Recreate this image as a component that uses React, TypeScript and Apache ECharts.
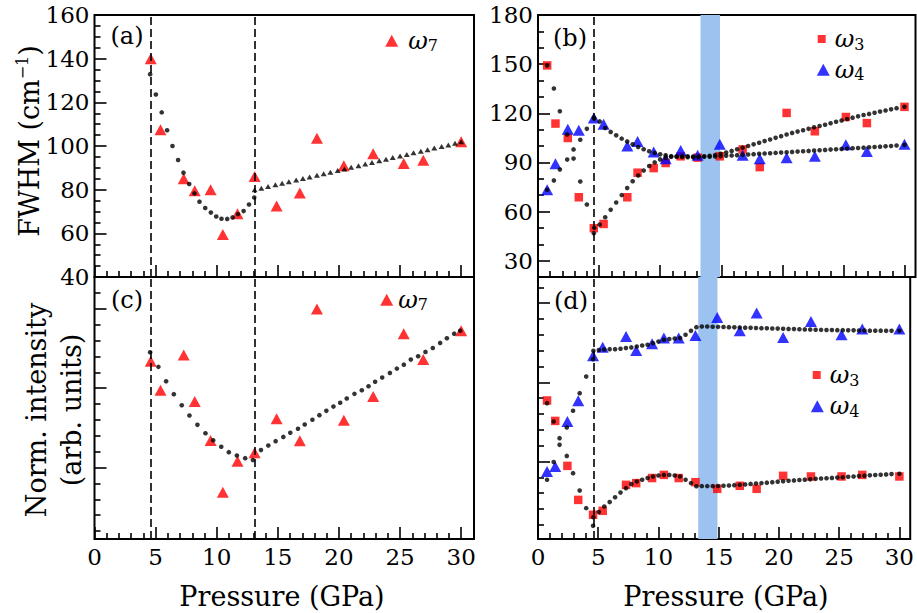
import React, { useEffect, useRef } from "react";
import * as echarts from "echarts";

const FONT = "DejaVu Serif";

// ---------- tick values ----------
const xMinorTicks = [1, 2, 3, 4, 6, 7, 8, 9, 11, 12, 13, 14, 16, 17, 18, 19, 21, 22, 23, 24, 26, 27, 28, 29];
const xMajorTicks = [0, 5, 10, 15, 20, 25, 30];
const aMinorTicks = [45, 50, 55, 65, 70, 75, 85, 90, 95, 105, 110, 115, 125, 130, 135, 145, 150, 155];
const aMajorTicks = [40, 60, 80, 100, 120, 140, 160];
const bMinorTicks = [40, 50, 70, 80, 100, 110, 130, 140, 160, 170];
const bMajorTicks = [30, 60, 90, 120, 150, 180];
const cdMinorTicks = [1, 2, 3, 4, 6, 7, 8, 9, 11, 12, 13, 14, 16];
const cdMajorTicks = [5, 10, 15];

// ---------- reference lines ----------
const transitionsLeft = [4.6, 13.1];
const transitionsRight = [4.6];
const bandRight = [13.3, 14.9];

// ---------- panel (a) & (c): omega7 ----------
const leftPressure = [4.6, 5.4, 7.3, 8.2, 9.5, 10.5, 11.7, 13.1, 14.9, 16.8, 18.2, 20.4, 22.8, 25.3, 26.9, 30.0];
const aFwhmW7 = [140, 107.5, 85, 79.5, 80, 59.5, 69, 86, 72.5, 78.5, 103.5, 91, 96.5, 92, 93.5, 102];
const cIntW7 = [11.69, 9.87, 12.09, 9.16, 6.7, 3.45, 5.4, 5.93, 8.07, 6.69, 14.99, 7.98, 9.47, 13.43, 11.8, 13.62];

const aFitDotX = [4.55, 5.02, 5.5, 5.94, 6.38, 6.84, 7.28, 7.75, 8.18, 8.59, 9.06, 9.52, 9.96, 10.39, 10.86, 11.3, 11.74, 12.2, 12.64, 13.07];
const aFitDotY = [132.9, 123.6, 115.4, 107.2, 100.0, 93.6, 87.8, 82.6, 78.3, 74.5, 71.6, 69.5, 67.7, 66.7, 66.6, 67.3, 68.8, 70.2, 73.2, 76.4];
const aFitTriX = [13.1, 13.65, 14.2, 14.8, 15.35, 15.9, 16.5, 17.05, 17.6, 18.2, 18.75, 19.3, 19.9, 20.45, 21.0, 21.6, 22.15, 22.7, 23.3, 23.85, 24.4, 25.0, 25.55, 26.1, 26.7, 27.25, 27.8, 28.4, 28.95, 29.5, 30.0];
const aFitTriY = [80.0, 80.7, 81.4, 82.2, 82.9, 83.6, 84.4, 85.1, 85.8, 86.6, 87.3, 88.0, 88.8, 89.5, 90.3, 91.0, 91.7, 92.5, 93.2, 93.9, 94.7, 95.4, 96.1, 96.9, 97.6, 98.3, 99.1, 99.8, 100.5, 101.3, 102.0];

const cFitX = [4.55, 5.23, 5.86, 6.49, 7.14, 7.77, 8.42, 9.08, 9.71, 10.37, 10.99, 11.65, 12.33, 12.96, 13.62, 14.22, 14.82, 15.45, 16.02, 16.65, 17.2, 17.83, 18.4, 18.97, 19.55, 20.1, 20.64, 21.27, 21.87, 22.42, 22.96, 23.54, 24.17, 24.74, 25.31, 25.88, 26.48, 27.08, 27.68, 28.28, 28.83, 29.43, 29.92];
const cFitY = [12.26, 11.34, 10.43, 9.62, 8.92, 8.28, 7.69, 7.16, 6.72, 6.31, 5.97, 5.76, 5.59, 5.47, 6.1, 6.39, 6.66, 6.93, 7.19, 7.44, 7.71, 8.01, 8.3, 8.57, 8.84, 9.08, 9.35, 9.64, 9.87, 10.12, 10.4, 10.67, 10.96, 11.23, 11.48, 11.8, 12.01, 12.28, 12.53, 12.85, 13.14, 13.43, 13.62];

// ---------- panel (b) & (d): omega3, omega4 ----------
const rightPressure = [0.75, 1.43, 2.44, 3.34, 4.57, 5.37, 7.31, 8.15, 9.47, 10.45, 11.68, 13.07, 14.88, 16.75, 18.15, 20.35, 22.66, 25.2, 26.92, 30.0];
const bFwhmW3 = [149.2, 113.7, 104.9, 68.7, 49.8, 52.4, 68.7, 83.7, 86.5, 89.6, 93.7, 92.9, 93.7, 97.9, 87.1, 120.2, 109.0, 117.7, 114.0, 123.9];
const bFwhmW4 = [73.3, 89.2, 110.2, 109.6, 117.1, 113.3, 100.0, 102.8, 96.3, 92.2, 97.3, 94.3, 101.0, 94.3, 92.2, 92.9, 93.7, 100.8, 96.7, 101.0];
const dIntW3 = [8.85, 7.56, 4.72, 2.57, 1.63, 1.88, 3.52, 3.63, 3.95, 4.15, 3.95, 3.69, 3.27, 3.46, 3.27, 4.09, 4.05, 4.05, 4.15, 4.05];
const dIntW4 = [4.36, 4.68, 7.52, 8.83, 11.67, 12.22, 12.89, 12.0, 12.43, 12.79, 12.79, 12.95, 14.09, 13.25, 14.37, 12.83, 13.84, 13.0, 13.36, 13.36];

const rightPreX = [0.75, 1.3, 1.79, 2.39, 2.91, 3.46, 4.0, 4.57];
const bPreW3 = [149.2, 135.1, 121.2, 107.0, 92.3, 78.3, 64.3, 46.7];
const bPreW4 = [73.3, 79.0, 85.6, 91.7, 97.9, 103.8, 110.5, 117.3];
const dPreW3 = [8.68, 7.52, 6.47, 5.35, 4.26, 3.16, 2.05, 0.93];
const dPreW4 = [3.84, 4.96, 6.05, 7.14, 8.2, 9.31, 10.36, 11.46];

const rightPostX = [4.6, 5.05, 5.5, 5.95, 6.4, 6.85, 7.3, 7.75, 8.2, 8.65, 9.1, 9.55, 10.0, 10.45, 10.9, 11.35, 11.8, 12.25, 12.7, 13.15, 13.6, 14.05, 14.5, 14.95, 15.4, 15.85, 16.3, 16.75, 17.2, 17.65, 18.1, 18.55, 19.0, 19.45, 19.9, 20.35, 20.8, 21.25, 21.7, 22.15, 22.6, 23.05, 23.5, 23.95, 24.4, 24.85, 25.3, 25.75, 26.2, 26.65, 27.1, 27.55, 28.0, 28.45, 28.9, 29.35, 30.0];
const bPostW3 = [50, 52, 56.5, 61, 65.5, 70, 74.3, 78.5, 82, 85, 87.8, 90, 91.8, 92.8, 93.4, 93.6, 93.7, 93.7, 93.6, 93.6, 93.7, 94, 94.5, 95.2, 96, 97, 98, 99, 100, 101, 102, 103, 104, 105, 106, 107, 108, 108.8, 109.6, 110.5, 111.4, 112.2, 113, 113.9, 114.8, 115.6, 116.5, 117.3, 118.1, 118.9, 119.6, 120.3, 121, 121.7, 122.4, 123.1, 124];
const bPostW4 = [117, 115, 111, 108.6, 106.5, 104.5, 102.8, 101, 99.4, 98, 96.8, 95.7, 94.9, 94.3, 93.8, 93.5, 93.3, 93.2, 93.2, 93.3, 93.4, 93.5, 93.6, 93.8, 94, 94.2, 94.4, 94.6, 94.8, 95, 95.2, 95.4, 95.6, 95.8, 96, 96.2, 96.4, 96.6, 96.8, 97, 97.2, 97.4, 97.6, 97.8, 98, 98.2, 98.4, 98.6, 98.8, 99, 99.2, 99.4, 99.6, 99.8, 100, 100.3, 100.7];
const dPostW3 = [1.48, 1.8, 2.15, 2.43, 2.74, 3.03, 3.31, 3.57, 3.73, 3.84, 3.95, 4.05, 4.11, 4.15, 4.15, 4.11, 4.05, 3.84, 3.63, 3.43, 3.44, 3.44, 3.44, 3.45, 3.46, 3.48, 3.5, 3.52, 3.55, 3.58, 3.6, 3.63, 3.66, 3.69, 3.72, 3.75, 3.78, 3.8, 3.83, 3.85, 3.87, 3.9, 3.92, 3.94, 3.96, 3.98, 4.0, 4.03, 4.05, 4.08, 4.1, 4.12, 4.14, 4.16, 4.18, 4.2, 4.22];
const dPostW4 = [11.99, 12.04, 12.07, 12.09, 12.09, 12.12, 12.16, 12.2, 12.26, 12.32, 12.37, 12.47, 12.57, 12.68, 12.73, 12.76, 12.79, 13.0, 13.25, 13.48, 13.52, 13.52, 13.51, 13.5, 13.49, 13.48, 13.47, 13.46, 13.45, 13.44, 13.43, 13.42, 13.41, 13.4, 13.39, 13.38, 13.37, 13.36, 13.35, 13.34, 13.33, 13.32, 13.31, 13.3, 13.3, 13.29, 13.29, 13.28, 13.28, 13.27, 13.27, 13.26, 13.26, 13.26, 13.25, 13.25, 13.25];

// ---------- helpers ----------
const pair = (xs: number[], ys: number[]) => xs.map((x, i) => [x, ys[i]]);
const RED = "#ff0000";
const BLUE = "#0000ff";
const BLACK = "#000000";
const tickLine = { color: BLACK, width: 1.6 };

function axisPair(dim: "x" | "y", g: number, min: number, max: number, minor: number[], major: number[], labels: number[] | null) {
  const base: any = {
    gridIndex: g,
    type: "value",
    min,
    max,
    position: dim === "x" ? "bottom" : "left",
    axisLine: { show: false },
    splitLine: { show: false },
    silent: true,
  };
  const a1 = {
    ...base,
    axisTick: { show: true, inside: true, length: 6, customValues: minor, lineStyle: tickLine },
    axisLabel: labels
      ? { show: true, customValues: labels, color: BLACK, fontFamily: FONT, fontSize: 23, margin: dim === "x" ? 6 : 5, showMinLabel: true, showMaxLabel: true }
      : { show: false },
  };
  const a2 = {
    ...base,
    axisTick: { show: true, inside: true, length: 12, customValues: major, lineStyle: tickLine },
    axisLabel: { show: false },
  };
  return [a1, a2];
}

const titleRich = {
  n: { fontFamily: FONT, fontSize: 27, lineHeight: 30, fill: BLACK },
  m: { fontFamily: FONT, fontSize: 27, lineHeight: 35, fill: BLACK },
  sup: { fontFamily: FONT, fontSize: 16, lineHeight: 16, verticalAlign: "top", fill: BLACK },
};

function titleText(text: string, x: number, y: number, rotate: boolean) {
  return {
    type: "text",
    x,
    y,
    rotation: rotate ? Math.PI / 2 : 0,
    silent: true,
    style: {
      text,
      fontFamily: FONT,
      fontSize: 27,
      fill: BLACK,
      align: "center",
      verticalAlign: "middle",
      rich: titleRich,
    },
  };
}

function plainTitle(text: string, x: number, y: number) {
  return {
    type: "text",
    x,
    y,
    silent: true,
    style: {
      text,
      font: '27px "DejaVu Serif"',
      fill: BLACK,
      align: "center",
      verticalAlign: "middle",
    },
  };
}

function legend(name: string, icon: string, w: number, h: number, left: number, top: number, pad: number) {
  return {
    show: true,
    data: [name],
    left,
    top,
    icon,
    itemWidth: w,
    itemHeight: h,
    padding: 0,
    selectedMode: false,
    formatter: (n: string) => `{w|${n.slice(0, 1)}}{s|${n.slice(1)}}`,
    textStyle: {
      color: BLACK,
      fontFamily: FONT,
      rich: {
        w: { fontFamily: FONT, fontStyle: "italic", fontSize: 24, lineHeight: 26, padding: [0, 0, 0, pad], color: BLACK },
        s: { fontFamily: FONT, fontSize: 16, lineHeight: 16, verticalAlign: "bottom", color: BLACK },
      },
    },
  };
}

function panelLabel(text: string, x: number, y: number) {
  return {
    type: "text",
    x,
    y,
    silent: true,
    style: { text, fontFamily: FONT, fontSize: 24, fill: BLACK, align: "center", verticalAlign: "middle" },
  };
}

const dashStyle = { color: BLACK, type: [8, 4], width: 1.6 };

function refSeries(g: number, lines: number[], band: number[] | null) {
  const s: any = {
    type: "line",
    name: "ref" + g,
    xAxisIndex: 2 * g,
    yAxisIndex: 2 * g,
    data: [],
    z: 1,
    silent: true,
    markLine: {
      silent: true,
      symbol: ["none", "none"],
      label: { show: false },
      lineStyle: dashStyle,
      data: lines.map((v) => ({ xAxis: v })),
    },
  };
  if (band) {
    s.markArea = {
      silent: true,
      itemStyle: { color: "#9cc3ef", opacity: 1 },
      data: [[{ xAxis: band[0] }, { xAxis: band[1] }]],
    };
  }
  return s;
}

function dots(g: number, name: string, data: number[][], symbol = "circle", size: any = 4.6) {
  return {
    type: "scatter",
    name,
    xAxisIndex: 2 * g,
    yAxisIndex: 2 * g,
    data,
    symbol,
    symbolSize: size,
    itemStyle: { color: BLACK },
    z: 4,
    silent: true,
  };
}

function markers(g: number, name: string, data: number[][], symbol: string, size: any, color: string) {
  return {
    type: "scatter",
    name,
    xAxisIndex: 2 * g,
    yAxisIndex: 2 * g,
    data,
    symbol,
    symbolSize: size,
    itemStyle: { color },
    z: 3,
    silent: true,
  };
}

const TRI = [12, 11];

export default function App() {
  const ref = useRef<HTMLDivElement>(null);
  useEffect(() => {
    document.body.style.margin = "0";
    const chart = echarts.init(ref.current as HTMLDivElement, null, { renderer: "svg" });
    const grids = [
      { left: 94.5, top: 15, width: 379.5, height: 262 },
      { left: 538, top: 15, width: 377.5, height: 262 },
      { left: 94.5, top: 277, width: 379.5, height: 262 },
      { left: 538, top: 277, width: 377.5, height: 262 },
    ].map((g) => ({ ...g, show: true, borderColor: BLACK, borderWidth: 2, backgroundColor: "transparent" }));

    const xAxis = [
      ...axisPair("x", 0, 0, 31.05, xMinorTicks, xMajorTicks, null),
      ...axisPair("x", 1, 0, 30.9, xMinorTicks, xMajorTicks, null),
      ...axisPair("x", 2, 0, 31.05, xMinorTicks, xMajorTicks, xMajorTicks),
      ...axisPair("x", 3, 0, 30.9, xMinorTicks, xMajorTicks, xMajorTicks),
    ];
    const yAxis = [
      ...axisPair("y", 0, 40, 160, aMinorTicks, aMajorTicks, aMajorTicks),
      ...axisPair("y", 1, 20, 180, bMinorTicks, bMajorTicks, bMajorTicks),
      ...axisPair("y", 2, 0.5, 17, cdMinorTicks, cdMajorTicks, null),
      ...axisPair("y", 3, 0.1, 16.65, cdMinorTicks, cdMajorTicks, null),
    ];

    const series: any[] = [
      refSeries(0, transitionsLeft, null),
      markers(0, "ω7", pair(leftPressure, aFwhmW7), "triangle", TRI, RED),
      dots(0, "fitA1", pair(aFitDotX, aFitDotY)),
      dots(0, "fitA2", pair(aFitTriX, aFitTriY), "triangle", [6, 5]),
      refSeries(1, transitionsRight, bandRight),
      markers(1, "ω3", pair(rightPressure, bFwhmW3), "rect", 8.5, RED),
      markers(1, "ω4", pair(rightPressure, bFwhmW4), "triangle", TRI, BLUE),
      dots(1, "fitB1", pair(rightPreX, bPreW3)),
      dots(1, "fitB2", pair(rightPreX, bPreW4)),
      dots(1, "fitB3", pair(rightPostX, bPostW3)),
      dots(1, "fitB4", pair(rightPostX, bPostW4)),
      refSeries(2, transitionsLeft, null),
      markers(2, "ω7", pair(leftPressure, cIntW7), "triangle", TRI, RED),
      dots(2, "fitC", pair(cFitX, cFitY)),
      refSeries(3, transitionsRight, bandRight),
      markers(3, "ω3", pair(rightPressure, dIntW3), "rect", 8.5, RED),
      markers(3, "ω4", pair(rightPressure, dIntW4), "triangle", TRI, BLUE),
      dots(3, "fitD1", pair(rightPreX, dPreW3)),
      dots(3, "fitD2", pair(rightPreX, dPreW4)),
      dots(3, "fitD3", pair(rightPostX, dPostW3)),
      dots(3, "fitD4", pair(rightPostX, dPostW4)),
    ];

    chart.setOption({
      animation: false,
      backgroundColor: "#ffffff",
      textStyle: { fontFamily: FONT, color: BLACK },
      grid: grids,
      xAxis,
      yAxis,
      legend: [
        legend("ω7", "triangle", 13, 12, 385.2, 28.7, 5),
        legend("ω3", "rect", 8, 8, 817.7, 27, 4),
        legend("ω4", "triangle", 13, 12, 816.8, 57.7, 0),
        legend("ω7", "triangle", 13, 12, 380.2, 287.7, 0),
        legend("ω3", "rect", 8, 8, 812.7, 363, 4),
        legend("ω4", "triangle", 13, 12, 810.8, 394.3, 1),
      ],
      graphic: [
        panelLabel("(a)", 127, 36),
        panelLabel("(b)", 570, 38),
        panelLabel("(c)", 127, 300),
        panelLabel("(d)", 571, 301),
        titleText("{n|FWHM (cm}{sup|−1}{n|)}", 29, 141, true),
        titleText("{m|Norm. intensity}\n{m|(arb. units)}", 54, 410, true),
        titleText("{n|Pressure (GPa)}", 282, 596, false),
        plainTitle("Pressure (GPa)", 726, 596),
      ],
      series,
    });
    return () => chart.dispose();
  }, []);
  return <div ref={ref} style={{ position: "absolute", left: 0, top: 0, width: 917, height: 613 }} />;
}
